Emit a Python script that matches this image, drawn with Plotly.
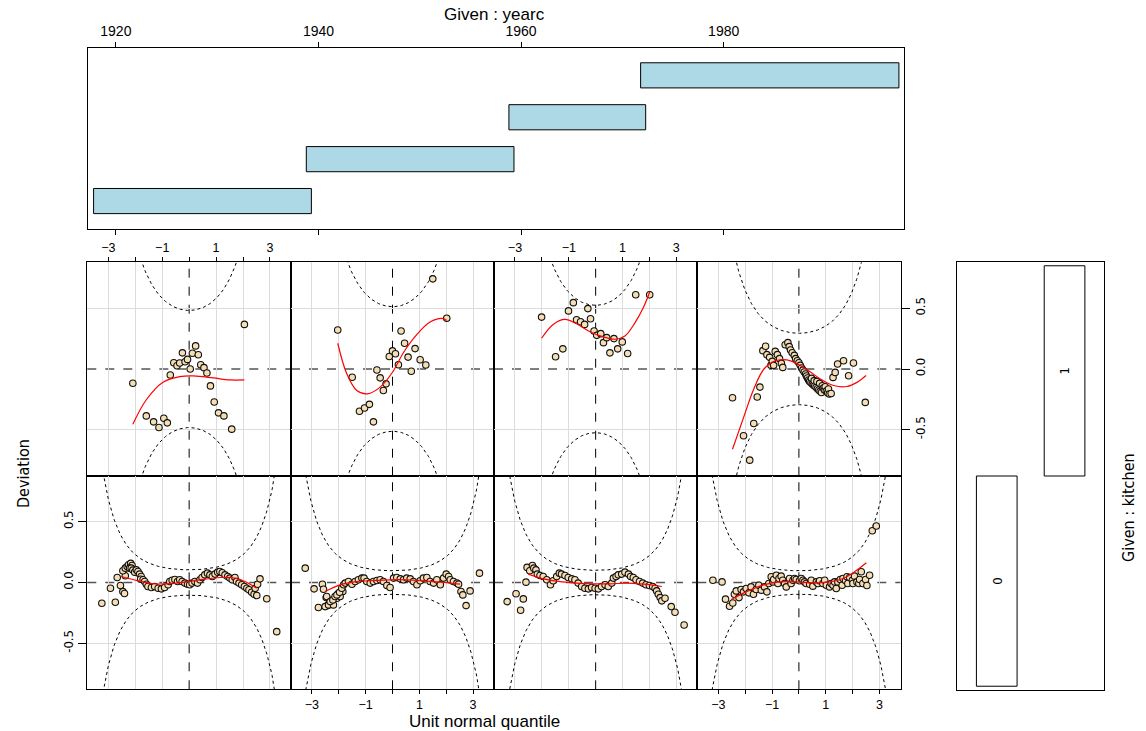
import math
import numpy as np
import plotly.graph_objects as go

W, H = 1146, 731

# ---------------- given panels ----------------
yearc_lo = [1917.8, 1938.8, 1958.8, 1971.8]
yearc_hi = [1939.3, 1959.3, 1972.3, 1997.3]
year_ticks = [1920, 1940, 1960, 1980]
kitchen_levels = ["0", "1"]
kitchen_lo = [-0.5, 0.5]
kitchen_hi = [0.5, 1.5]

# ---------------- worm plot panels ----------------
# top row: kitchen = 1 ; bottom row: kitchen = 0 ; columns: yearc intervals 1..4
n_obs = [26, 23, 22, 70, 560, 650, 600, 650]

q_t1 = [-2.09, -1.59, -1.32, -1.12, -0.94, -0.81, -0.70, -0.57, -0.45, -0.35, -0.25, -0.15, -0.06, 0.04, 0.12, 0.24,
        0.34, 0.43, 0.55, 0.66, 0.79, 0.93, 1.09, 1.29, 1.58, 2.05]
d_t1 = [-0.117, -0.386, -0.435, -0.481, -0.405, -0.443, -0.049, 0.052, 0.027, 0.049, 0.133, 0.060, 0.079, 0.0, 0.130,
        0.190, 0.117, 0.035, 0.011, -0.033, -0.139, -0.272, -0.361, -0.386, -0.495, 0.367]
fq_t1 = [-2.09, -1.59, -0.97, -0.35, 0.15, 0.89, 1.51, 2.05]
fd_t1 = [-0.454, -0.253, -0.109, -0.063, -0.057, -0.073, -0.090, -0.090]

q_t2 = [-2.04, -1.50, -1.23, -1.04, -0.86, -0.71, -0.58, -0.46, -0.34, -0.24, -0.12, 0.0, 0.11, 0.22, 0.32, 0.45, 0.58,
        0.70, 0.84, 1.03, 1.24, 1.50, 2.02]
d_t2 = [0.321, -0.068, -0.348, -0.321, -0.291, -0.435, -0.008, -0.073, -0.177, -0.122, 0.103, 0.149, 0.125, 0.035,
        0.313, 0.212, 0.098, -0.019, 0.168, 0.076, 0.033, 0.742, 0.418]
fq_t2 = [-2.04, -1.70, -1.33, -0.93, -0.46, 0.0, 0.41, 0.91, 1.40, 1.84, 2.02]
fd_t2 = [0.212, -0.041, -0.177, -0.204, -0.149, -0.027, 0.136, 0.285, 0.386, 0.416, 0.40]

q_t3 = [-2.01, -1.49, -1.22, -1.01, -0.83, -0.71, -0.56, -0.41, -0.29, -0.19, -0.06, 0.04, 0.19, 0.29, 0.41, 0.53,
        0.68, 0.82, 0.99, 1.19, 1.49, 2.01]
d_t3 = [0.427, 0.101, 0.166, 0.478, 0.546, 0.405, 0.389, 0.367, 0.497, 0.413, 0.313, 0.277, 0.291, 0.217, 0.258,
        0.133, 0.250, 0.166, 0.223, 0.128, 0.611, 0.611]
fq_t3 = [-2.01, -1.58, -1.14, -0.71, -0.21, 0.29, 0.72, 1.09, 1.46, 1.78, 2.01]
fd_t3 = [0.253, 0.367, 0.408, 0.372, 0.307, 0.264, 0.245, 0.272, 0.380, 0.508, 0.633]

q_t4 = [-2.47, -2.06, -1.83, -1.68, -1.55, -1.45,
        -1.34, -1.24, -1.19, -1.09, -1.04, -0.99, -0.94, -0.88, -0.80, -0.72, -0.65, -0.60,
        -0.51, -0.41, -0.36, -0.31, -0.25, -0.17, -0.12, -0.06, 0.0, 0.05, 0.10, 0.15, 0.20, 0.25, 0.28, 0.32,
        0.36, 0.40, 0.45, 0.47, 0.50, 0.54, 0.57, 0.59, 0.64, 0.67, 0.69, 0.74, 0.77, 0.79, 0.84, 0.87, 0.91,
        0.95, 0.98, 1.02, 1.07, 1.10, 1.13, 1.20,
        1.27, 1.35, 1.44, 1.66, 1.85, 2.03, 2.47]
d_t4 = [-0.236, -0.549, -0.750, -0.448, -0.231, -0.149,
        0.151, 0.187, 0.118, 0.096, 0.030, 0.063, 0.030, 0.145, 0.118, 0.085, 0.046, 0.013,
        0.200, 0.217, 0.184, 0.156, 0.134, 0.112, 0.085, 0.068, 0.052, 0.030, 0.008, -0.009, -0.025, -0.041,
        -0.058, -0.074, -0.091, -0.102, -0.113, -0.077, -0.124, -0.132, -0.096, -0.140, -0.151, -0.102, -0.162,
        -0.173, -0.118, -0.184, -0.193, -0.138, -0.157, -0.173, -0.146, -0.182, -0.195, -0.165, -0.206, -0.201,
        -0.069, -0.028, 0.041, 0.068, -0.055, 0.049, -0.275]
fq_t4 = [-2.47, -2.06, -1.69, -1.30, -0.90, -0.45, 0.0, 0.40, 0.80, 1.29, 1.79, 2.16, 2.50]
fd_t4 = [-0.66, -0.40, -0.17, 0.0, 0.065, 0.075, 0.035, -0.02, -0.082, -0.136, -0.144, -0.11, -0.054]

q_b1 = [-3.24, -2.92, -2.74, -2.67, -2.55, -2.46, -2.40, -2.37,
        -2.46, -2.37, -2.30, -2.25, -2.17, -2.12, -2.21, -2.15, -2.09, -2.02, -1.96, -1.90, -1.84, -1.78, -1.80,
        -1.71, -1.65, -1.59, -1.53, -1.40, -1.28, -1.15, -1.03, -0.91, -0.78, -0.72, -0.63, -0.53, -0.43, -0.35,
        -0.26, -0.16, -0.06, 0.02, 0.11, 0.21, 0.31, 0.40, 0.48, 0.58, 0.68, 0.77, 0.86, 0.96, 1.06, 1.14, 1.23,
        1.33, 1.43, 1.51, 1.60, 1.70, 1.76, 1.85, 1.95, 2.05, 2.14, 2.22, 2.32, 2.41, 2.45, 2.54,
        2.51, 2.63, 2.88, 3.25]
d_b1 = [-0.170, -0.047, -0.162, 0.041, -0.025, -0.075, -0.090, 0.055,
        0.096, 0.118, 0.132, 0.146, 0.157, 0.140, 0.118, 0.118, 0.102, 0.085, 0.104, 0.091, 0.069, 0.049, 0.027,
        0.022, 0.008, -0.014, -0.033, -0.041, -0.033, -0.047, -0.052, -0.041, -0.019, 0.008, 0.019, 0.025, 0.008,
        0.022, 0.008, -0.005, -0.014, -0.019, -0.005, 0.008, -0.005, 0.022, 0.041, 0.063, 0.077, 0.063, 0.049,
        0.069, 0.085, 0.091, 0.080, 0.063, 0.049, 0.036, 0.022, 0.041, 0.008, -0.005, -0.019, -0.033, -0.047,
        -0.060, -0.080, -0.096, -0.047, -0.014,
        -0.107, 0.030, -0.134, -0.404]
fq_b1 = [-2.52, -1.90, -1.28, -0.66, -0.04, 0.58, 1.20, 1.70, 2.07, 2.51]
fd_b1 = [0.049, 0.014, -0.011, -0.008, 0.008, 0.027, 0.041, 0.036, 0.008, -0.047]

q_b2 = [-3.25, -2.92, -2.76, -2.61, -2.57, -2.47, -2.42, -2.35,
        -2.51, -2.45, -2.38, -2.20, -2.07, -2.01, -1.95, -1.85,
        -2.32, -2.22, -2.14, -2.07, -1.97, -1.89, -1.82, -1.76, -1.64, -1.51, -1.39, -1.27, -1.14, -1.06, -0.96,
        -0.83, -0.71, -0.58, -0.46, -0.34, -0.21, -0.09, 0.04, 0.16, 0.29, 0.41, 0.53, 0.66, 0.78, 0.91, 1.03,
        1.15, 1.28, 1.40, 1.53, 1.65, 1.78, 1.90, 2.00, 2.09, 2.15, 2.27, 2.40, 2.46,
        2.55, 2.62, 2.74, 2.89, 3.24]
d_b2 = [0.118, -0.052, -0.206, -0.014, -0.055, -0.124, -0.190, -0.170,
        -0.198, -0.115, -0.184, -0.184, -0.129, -0.088, -0.115, -0.074,
        -0.157, -0.143, -0.115, -0.102, -0.080, -0.047, -0.019, -0.005, 0.008, -0.014, 0.008, 0.022, 0.036, 0.036,
        0.008, -0.005, 0.008, 0.016, 0.022, 0.008, -0.025, -0.041, 0.036, 0.041, 0.030, 0.022, 0.036, 0.030,
        0.008, -0.019, 0.014, 0.036, 0.041, 0.008, -0.005, 0.022, -0.019, 0.036, 0.069, 0.049, 0.022, 0.008,
        -0.005, -0.014,
        -0.074, -0.102, -0.190, -0.069, 0.077]
fq_b2 = [-2.51, -1.95, -1.33, -0.71, -0.09, 0.53, 1.15, 1.78, 2.52]
fd_b2 = [-0.074, -0.019, 0.008, 0.016, 0.022, 0.022, 0.014, 0.003, -0.014]

q_b3 = [-3.29, -2.96, -2.79, -2.69, -2.59,
        -2.55, -2.45, -2.35, -2.30, -2.22, -2.17, -2.07, -1.95, -1.82, -1.68, -1.58, -1.45, -1.35, -1.27, -1.14,
        -1.02, -0.89, -0.77, -0.65, -0.52, -0.40, -0.27, -0.15, -0.02, 0.10, 0.22, 0.35, 0.47, 0.60, 0.66, 0.76,
        0.84, 0.97, 1.09, 1.22, 1.30, 1.40, 1.50, 1.63, 1.75, 1.87, 2.00, 2.12, 2.21, 2.27, 2.33, 2.40, 2.46,
        2.58, 2.81, 2.95, 3.29]
d_b3 = [-0.157, -0.093, -0.228, -0.135, 0.003,
        0.124, 0.096, 0.140, 0.118, 0.104, 0.069, 0.058, 0.049, 0.022, -0.019, 0.014, 0.049, 0.077, 0.069, 0.058,
        0.041, 0.030, 0.022, -0.005, -0.033, -0.047, -0.052, -0.041, -0.047, -0.052, -0.033, -0.019, -0.033,
        -0.005, 0.036, 0.049, 0.063, 0.069, 0.085, 0.069, 0.049, 0.041, 0.022, 0.008, -0.005, -0.019, -0.025,
        -0.033, -0.047, -0.069, -0.096, -0.124, -0.151,
        -0.129, -0.198, -0.245, -0.349]
fq_b3 = [-2.51, -1.95, -1.33, -0.71, -0.09, 0.53, 1.15, 1.78, 2.46]
fd_b3 = [0.069, 0.030, 0.008, -0.005, -0.011, -0.011, -0.005, -0.014, -0.033]

q_b4 = [-3.20, -2.86,
        -2.73, -2.58, -2.46, -2.40, -2.33, -2.23, -2.15, -2.06, -1.96, -1.86, -1.78, -1.69, -1.59, -1.49, -1.40,
        -1.28, -1.19, -1.12, -1.03, -0.97, -0.94, -0.84, -0.78, -0.74, -0.66, -0.60, -0.53, -0.47, -0.35, -0.29,
        -0.22, -0.16, -0.10, 0.02, 0.09, 0.15, 0.21, 0.27, 0.40, 0.46, 0.52, 0.65, 0.71, 0.77, 0.89, 0.96, 1.02,
        1.14, 1.20, 1.27, 1.33, 1.39, 1.45, 1.54, 1.61, 1.64, 1.74, 1.79, 1.82, 1.89, 1.99, 2.01, 2.07, 2.16,
        2.23, 2.26, 2.32, 2.38, 2.48, 2.53, 2.63,
        2.73, 2.88]
d_b4 = [0.019, 0.005,
        -0.137, -0.195, -0.168, -0.096, -0.069, -0.124, -0.058, -0.077, -0.049, -0.085, -0.036, -0.096, -0.058,
        -0.022, -0.063, -0.036, -0.077, -0.008, 0.047, 0.005, 0.025, 0.060, -0.008, 0.033, 0.052, 0.019, -0.008,
        -0.036, 0.033, -0.008, 0.019, 0.033, 0.025, 0.014, 0.033, 0.019, 0.005, -0.008, -0.014, 0.019, -0.030,
        0.005, -0.008, 0.014, -0.008, 0.019, -0.022, -0.036, -0.008, -0.022, 0.005, -0.049, 0.005, 0.025, -0.022,
        0.033, 0.014, 0.047, -0.008, 0.041, 0.019, -0.008, 0.052, 0.005, -0.008, 0.025, 0.088, -0.008, 0.025,
        -0.025, 0.060,
        0.426, 0.464]
fq_b4 = [-2.52, -1.96, -1.34, -0.72, -0.10, 0.52, 1.14, 1.64, 2.07, 2.51]
fd_b4 = [-0.140, -0.077, -0.022, 0.005, 0.005, -0.003, 0.005, 0.033, 0.088, 0.162]

panels = [
    (q_t1, d_t1, fq_t1, fd_t1), (q_t2, d_t2, fq_t2, fd_t2), (q_t3, d_t3, fq_t3, fd_t3), (q_t4, d_t4, fq_t4, fd_t4),
    (q_b1, d_b1, fq_b1, fd_b1), (q_b2, d_b2, fq_b2, fd_b2), (q_b3, d_b3, fq_b3, fd_b3), (q_b4, d_b4, fq_b4, fd_b4),
]

X_LIM = 3.78
Y_LIM = 0.878

# ---------------- layout geometry (pixels) ----------------
col_px = [(87.3, 291.0), (291.0, 494.0), (494.0, 697.3), (697.3, 900.5)]
row_px = [(262.3, 475.7), (475.7, 689.3)]


def dom_x(a, b):
    return [a / W, b / W]


def dom_y(a, b):
    return [1 - b / H, 1 - a / H]


NARROW = "Liberation Sans Narrow, DejaVu Sans Condensed, Roboto Condensed, Arial Narrow, Liberation Sans, sans-serif"
SANS = "Liberation Sans, Arial, Helvetica, sans-serif"
GRID = "#DCDCDC"


def pnorm(z):
    return 0.5 * (1.0 + math.erf(z / math.sqrt(2.0)))


def dnorm(z):
    return math.exp(-z * z / 2.0) / math.sqrt(2.0 * math.pi)


fig = go.Figure()
layout = dict(width=W, height=H, margin=dict(l=0, r=0, t=0, b=0), paper_bgcolor="white",
              plot_bgcolor="white", showlegend=False, hovermode=False)
shapes = []
annotations = []

zgrid = np.linspace(-X_LIM, X_LIM, 400)

for i, (q, d, fq, fd) in enumerate(panels):
    r, c = divmod(i, 4)
    k = i + 1
    xs = "x" if k == 1 else f"x{k}"
    ys = "y" if k == 1 else f"y{k}"
    xkey = "xaxis" if k == 1 else f"xaxis{k}"
    ykey = "yaxis" if k == 1 else f"yaxis{k}"

    xax = dict(domain=dom_x(*col_px[c]), range=[-X_LIM, X_LIM], anchor=ys,
               tickvals=[-3, -2, -1, 0, 1, 2, 3], ticktext=["\u22123", "", "\u22121", "", "1", "", "3"],
               showgrid=False, zeroline=False,
               minor=dict(tickvals=[-3, -2, -1, 1, 2, 3], showgrid=True, gridcolor=GRID, gridwidth=1, ticks=""),
               showline=True, mirror=True, linecolor="black", linewidth=1.3,
               tickfont=dict(family=SANS, size=12.5, color="black"), ticklen=4, tickcolor="black", tickwidth=1)
    if r == 0 and c in (0, 2):
        xax.update(side="top", ticks="outside", showticklabels=True)
    elif r == 1 and c in (1, 3):
        xax.update(side="bottom", ticks="outside", showticklabels=True)
    else:
        xax.update(ticks="", showticklabels=False)

    yax = dict(domain=dom_y(*row_px[r]), range=[-Y_LIM, Y_LIM], anchor=xs,
               tickvals=[-0.5, 0, 0.5], ticktext=["-0.5", "0.0", "0.5"],
               showgrid=False, zeroline=False,
               minor=dict(tickvals=[-0.5, 0.5], showgrid=True, gridcolor=GRID, gridwidth=1, ticks=""),
               showline=True, mirror=True, linecolor="black", linewidth=1.3,
               tickfont=dict(family=NARROW, size=13, color="black"), ticklen=8, tickcolor="black",
               tickwidth=1, tickangle=-90)
    if r == 1 and c == 0:
        yax.update(side="left", ticks="outside", showticklabels=True)
    elif r == 0 and c == 3:
        yax.update(side="right", ticks="outside", showticklabels=True)
    else:
        yax.update(ticks="", showticklabels=False)
    layout[xkey] = xax
    layout[ykey] = yax

    # confidence bands
    n = n_obs[i]
    se = np.array([math.sqrt(pnorm(z) * (1 - pnorm(z)) / n) / dnorm(z) for z in zgrid])
    band = 1.959964 * se
    for sgn in (1, -1):
        fig.add_trace(go.Scatter(x=zgrid, y=sgn * band, mode="lines", xaxis=xs, yaxis=ys,
                                 line=dict(color="black", width=1, dash="dot")))

    # reference lines
    shapes.append(dict(type="line", xref=f"{xs} domain", x0=0, x1=1, yref=ys, y0=0, y1=0,
                       line=dict(color="#555555", width=1.5, dash="dash"), layer="below"))
    shapes.append(dict(type="line", xref=xs, x0=0, x1=0, yref=f"{ys} domain", y0=0, y1=1,
                       line=dict(color="black", width=1, dash="dash"), layer="below"))

    fig.add_trace(go.Scatter(x=q, y=d, mode="markers", xaxis=xs, yaxis=ys,
                             marker=dict(symbol="circle", size=6.5, color="#F5DEB3",
                                         line=dict(color="#111111", width=1.1))))
    fig.add_trace(go.Scatter(x=fq, y=fd, mode="lines", xaxis=xs, yaxis=ys,
                             line=dict(color="red", width=1.2, shape="spline")))

# ---------------- given : yearc panel ----------------
layout["xaxis9"] = dict(domain=dom_x(87.5, 904.0), range=[1917.2, 1997.8], anchor="y9", side="top",
                        tickvals=year_ticks, ticktext=[str(t) for t in year_ticks], ticks="outside",
                        ticklen=5, tickcolor="black", showgrid=False, zeroline=False, showline=True,
                        mirror="ticks", linecolor="black", linewidth=1.3,
                        tickfont=dict(family=SANS, size=14, color="black"))
layout["yaxis9"] = dict(domain=dom_y(47.7, 228.7), range=[0.34, 4.66], anchor="x9", showticklabels=False,
                        ticks="", showgrid=False, zeroline=False, showline=True, mirror=True,
                        linecolor="black", linewidth=1.3)
fig.add_trace(go.Bar(y=[1, 2, 3, 4], x=[h - l for l, h in zip(yearc_lo, yearc_hi)], base=yearc_lo,
                     orientation="h", width=0.6, xaxis="x9", yaxis="y9",
                     marker=dict(color="#ADD8E6", line=dict(color="black", width=1))))

# ---------------- given : kitchen panel ----------------
layout["xaxis10"] = dict(domain=dom_x(957.3, 1104.0), range=[0.418, 2.582], anchor="y10", showticklabels=False,
                         ticks="", showgrid=False, zeroline=False, showline=True, mirror=True,
                         linecolor="black", linewidth=1.3)
layout["yaxis10"] = dict(domain=dom_y(262.0, 690.0), range=[-0.518, 1.518], anchor="x10", showticklabels=False,
                         ticks="", showgrid=False, zeroline=False, showline=True, mirror=True,
                         linecolor="black", linewidth=1.3)
fig.add_trace(go.Bar(x=[1, 2], y=[h - l for l, h in zip(kitchen_lo, kitchen_hi)], base=kitchen_lo,
                     width=0.6, xaxis="x10", yaxis="y10",
                     marker=dict(color="white", line=dict(color="black", width=1))))
for j, lev in enumerate(kitchen_levels):
    annotations.append(dict(x=j + 1, y=(kitchen_lo[j] + kitchen_hi[j]) / 2, xref="x10", yref="y10",
                            text=lev, showarrow=False, textangle=-90, xanchor="center", yanchor="middle",
                            font=dict(family=NARROW, size=13, color="black")))

# ---------------- titles ----------------
annotations += [
    dict(x=494 / W, y=1 - 14 / H, xref="paper", yref="paper", text="Given : yearc", showarrow=False,
         xanchor="center", yanchor="middle", font=dict(family=SANS, size=17, color="black")),
    dict(x=484 / W, y=1 - 721 / H, xref="paper", yref="paper", text="Unit normal quantile", showarrow=False,
         xanchor="center", yanchor="middle", font=dict(family=SANS, size=17, color="black")),
    dict(x=23 / W, y=1 - 474 / H, xref="paper", yref="paper", text="Deviation", showarrow=False,
         xanchor="center", yanchor="middle", textangle=-90, font=dict(family=NARROW, size=16, color="black")),
    dict(x=1128 / W, y=1 - 508 / H, xref="paper", yref="paper", text="Given : kitchen", showarrow=False,
         xanchor="center", yanchor="middle", textangle=-90, font=dict(family=NARROW, size=16, color="black")),
]

layout["shapes"] = shapes
layout["annotations"] = annotations
fig.update_layout(**layout)
fig.write_html("out.html", config={"displayModeBar": False},
               post_script="document.body.style.margin='0px';document.body.style.overflow='hidden';")
